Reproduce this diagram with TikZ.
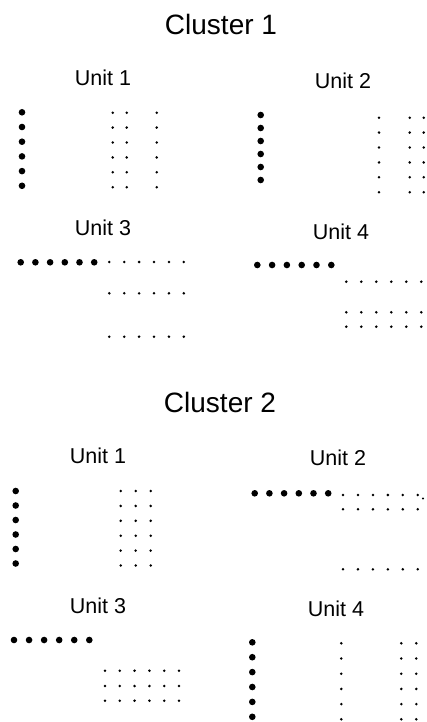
\documentclass[tikz,border=0pt]{standalone}
\usepackage{fontspec}
\setmainfont{Liberation Sans}
\usetikzlibrary{positioning}

\begin{document}
\begin{tikzpicture}[
    x=1pt, y=-1pt,
    title/.style={font=\fontsize{28}{32}\selectfont},
    unitlabel/.style={font=\fontsize{21.5}{25}\selectfont},
    bigdot/.style={fill=black},
    smalldot/.style={fill=black}
]
\useasboundingbox (0,0) rectangle (426,722);

% Cluster 1
\node[title] (c1) at (221,24) {Cluster 1};

% Unit 1
\node[unitlabel] (c1u1) at (103,78) {Unit 1};
\foreach \i in {0,...,5} {
  \fill[bigdot] (22,112.3+14.7*\i) circle (3.3);
  \foreach \cx in {112.7,126.7,156.7}
    \fill[smalldot] (\cx,112.7+14.9*\i) circle (1.4);
}

% Unit 2
\node[unitlabel] (c1u2) at (343,81) {Unit 2};
\foreach \i in {0,...,5} {
  \fill[bigdot] (260.7,115+13*\i) circle (3.3);
  \foreach \cx in {379,409.7,423.7}
    \fill[smalldot] (\cx,117.7+14.9*\i) circle (1.4);
}

% Unit 3
\node[unitlabel] (c1u3) at (103,228) {Unit 3};
\foreach \i in {0,...,5} {
  \fill[bigdot] (20.7+14.7*\i,262.3) circle (3.3);
  \foreach \ry in {262,293.3,336.7}
    \fill[smalldot] (109.3+14.9*\i,\ry) circle (1.4);
}

% Unit 4
\node[unitlabel] (c1u4) at (341,232) {Unit 4};
\foreach \i in {0,...,5} {
  \fill[bigdot] (257.3+14.8*\i,265) circle (3.3);
  \foreach \ry in {281.7,312.3,326.7}
    \fill[smalldot] (346.3+15*\i,\ry) circle (1.4);
}

% Cluster 2
\node[title] (c2) at (220,402) {Cluster 2};

% Unit 1
\node[unitlabel] (c2u1) at (98,456) {Unit 1};
\foreach \i in {0,...,5} {
  \fill[bigdot] (15.7,491+14.5*\i) circle (3.3);
  \foreach \cx in {120.7,135.7,150.7}
    \fill[smalldot] (\cx,491+14.9*\i) circle (1.4);
}

% Unit 2
\node[unitlabel] (c2u2) at (338,458) {Unit 2};
\foreach \i in {0,...,5} {
  \fill[bigdot] (254.7+14.7*\i,493.3) circle (3.3);
  \foreach \ry in {495,509.3,569.3}
    \fill[smalldot] (343+14.95*\i,\ry) circle (1.4);
}
\fill[smalldot] (423,498.5) circle (1.1);

% Unit 3
\node[unitlabel] (c2u3) at (98,606) {Unit 3};
\foreach \i in {0,...,5} {
  \fill[bigdot] (14+15.06*\i,640) circle (3.3);
  \foreach \ry in {670.7,686,700.7}
    \fill[smalldot] (105+14.8*\i,\ry) circle (1.4);
}

% Unit 4
\node[unitlabel] (c2u4) at (336,609) {Unit 4};
\foreach \i in {0,...,5} {
  \fill[bigdot] (252.3,642.3+14.9*\i) circle (3.3);
  \foreach \cx in {341.3,401.3,416.3}
    \fill[smalldot] (\cx,643.3+15.2*\i) circle (1.4);
}

\end{tikzpicture}
\end{document}
